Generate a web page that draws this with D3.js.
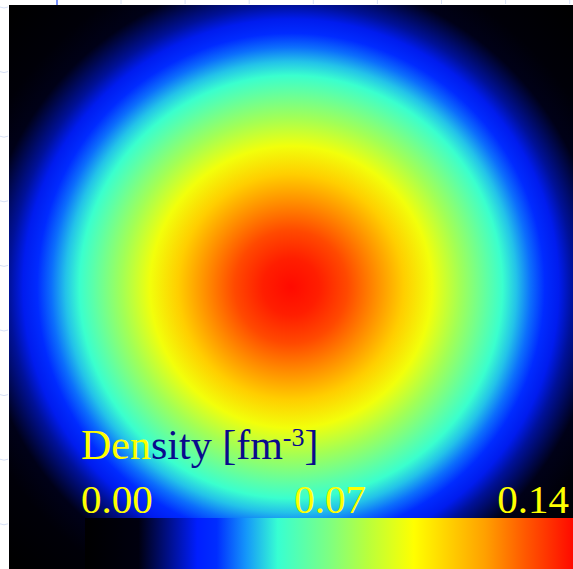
<!DOCTYPE html>
<html>
<head>
<meta charset="utf-8">
<script src="https://cdn.jsdelivr.net/npm/d3@7"></script>
<style>
  html, body { margin: 0; padding: 0; background: #ffffff; }
  svg { display: block; }
</style>
</head>
<body>
<svg id="chart" width="573" height="569"></svg>
<script>
// Radial nuclear density profile rho(r)
const radiusFm = [0, 1, 2, 3, 4, 5, 6, 7, 7.5, 8, 8.5, 9, 9.5, 10, 11, 12, 14];
const density  = [0.140, 0.1365, 0.129, 0.118, 0.105, 0.092, 0.077, 0.063, 0.056,
                  0.050, 0.043, 0.037, 0.031, 0.025, 0.016, 0.008, 0.000];

// Colour bar
const densityDomain = [0, 0.14];
const tickValues = [0, 0.07, 0.14];
const tickLabels = ["0.00", "0.07", "0.14"];
const cmapFractions = [0, 0.11, 0.23, 0.27, 0.33, 0.395, 0.5, 0.58, 0.674, 0.82, 0.9, 1];
const cmapColors = ["#000000", "#00000f", "#001eff", "#002dff", "#1496fa", "#37ffd2",
                    "#7dff82", "#b9ff3c", "#ffff00", "#ffa000", "#ff5a00", "#ff0a00"];

// Transverse plane extent (fm)
const gridExtent = [-10, 10];

const svg = d3.select("#chart");
const plot = { left: 9, top: 5, right: 573, bottom: 569 };

const x = d3.scaleLinear().domain(gridExtent).range([plot.left, plot.right]);
const y = d3.scaleLinear().domain([gridExtent[1], gridExtent[0]]).range([plot.top, plot.bottom]);
const rPx = d => x(d) - x(0);

const color = d3.scaleLinear()
  .domain(cmapFractions.map(f => densityDomain[0] + f * (densityDomain[1] - densityDomain[0])))
  .range(cmapColors)
  .interpolate(d3.interpolateRgb)
  .clamp(true);

const defs = svg.append("defs");

// faint page grid behind the figure
const bg = svg.append("g").attr("stroke", "#d6e0f6").attr("stroke-width", 1);
d3.range(9).forEach(i => {
  const yy = 7 + i * 64.6;
  bg.append("path").attr("d", `M0,${yy} Q4,${yy + 2} 8,${yy}`).attr("fill", "none");
});
d3.range(8).forEach(i => {
  const xx = 121 + i * 64.1;
  bg.append("line").attr("x1", xx).attr("x2", xx).attr("y1", 0).attr("y2", 4);
});
svg.append("rect").attr("x", 56).attr("y", 0).attr("width", 2).attr("height", 5).attr("fill", "#7b93ff");

// density map: radial gradient whose stops are the profile samples
const rMax = d3.max(radiusFm);
const rg = defs.append("radialGradient")
  .attr("id", "rhoMap")
  .attr("gradientUnits", "userSpaceOnUse")
  .attr("cx", x(0)).attr("cy", y(0))
  .attr("fx", x(0)).attr("fy", y(0))
  .attr("r", rPx(rMax));
rg.selectAll("stop")
  .data(radiusFm.map((r, i) => ({ r, rho: density[i] })))
  .join("stop")
  .attr("offset", d => d.r / rMax)
  .attr("stop-color", d => color(d.rho));

svg.append("rect")
  .attr("x", plot.left).attr("y", plot.top)
  .attr("width", plot.right - plot.left).attr("height", plot.bottom - plot.top)
  .attr("fill", "url(#rhoMap)");

// colour bar
const cb = { left: 85, right: 573, top: 518, bottom: 569 };
const cbScale = d3.scaleLinear().domain(densityDomain).range([cb.left, cb.right]);
const lg = defs.append("linearGradient")
  .attr("id", "cbar")
  .attr("gradientUnits", "userSpaceOnUse")
  .attr("x1", cb.left).attr("x2", cb.right).attr("y1", 0).attr("y2", 0);
lg.selectAll("stop")
  .data(color.domain())
  .join("stop")
  .attr("offset", d => (cbScale(d) - cb.left) / (cb.right - cb.left))
  .attr("stop-color", d => color(d));

svg.append("rect")
  .attr("x", cb.left).attr("y", cb.top)
  .attr("width", cb.right - cb.left).attr("height", cb.bottom - cb.top)
  .attr("fill", "url(#cbar)");

const font = "'Liberation Serif', 'Times New Roman', serif";
const anchors = ["start", "middle", "end"];
const nudge = [-4, 1, -4];
svg.append("g").selectAll("text")
  .data(tickValues)
  .join("text")
  .attr("x", (d, i) => cbScale(d) + nudge[i])
  .attr("y", 513)
  .attr("text-anchor", (d, i) => anchors[i])
  .attr("font-family", font)
  .attr("font-size", 41)
  .attr("fill", "#ffff00")
  .text((d, i) => tickLabels[i]);

// colour-bar title
const title = svg.append("text")
  .attr("x", 81).attr("y", 459)
  .attr("font-family", font)
  .attr("font-size", 42);
title.append("tspan").attr("fill", "#ffff00").text("Den");
title.append("tspan").attr("fill", "#0a0a8c").text("sity [fm");
title.append("tspan").attr("fill", "#0a0a8c").attr("font-size", 26).attr("dy", -13).text("-3");
title.append("tspan").attr("fill", "#0a0a8c").attr("dy", 13).text("]");
</script>
</body>
</html>
